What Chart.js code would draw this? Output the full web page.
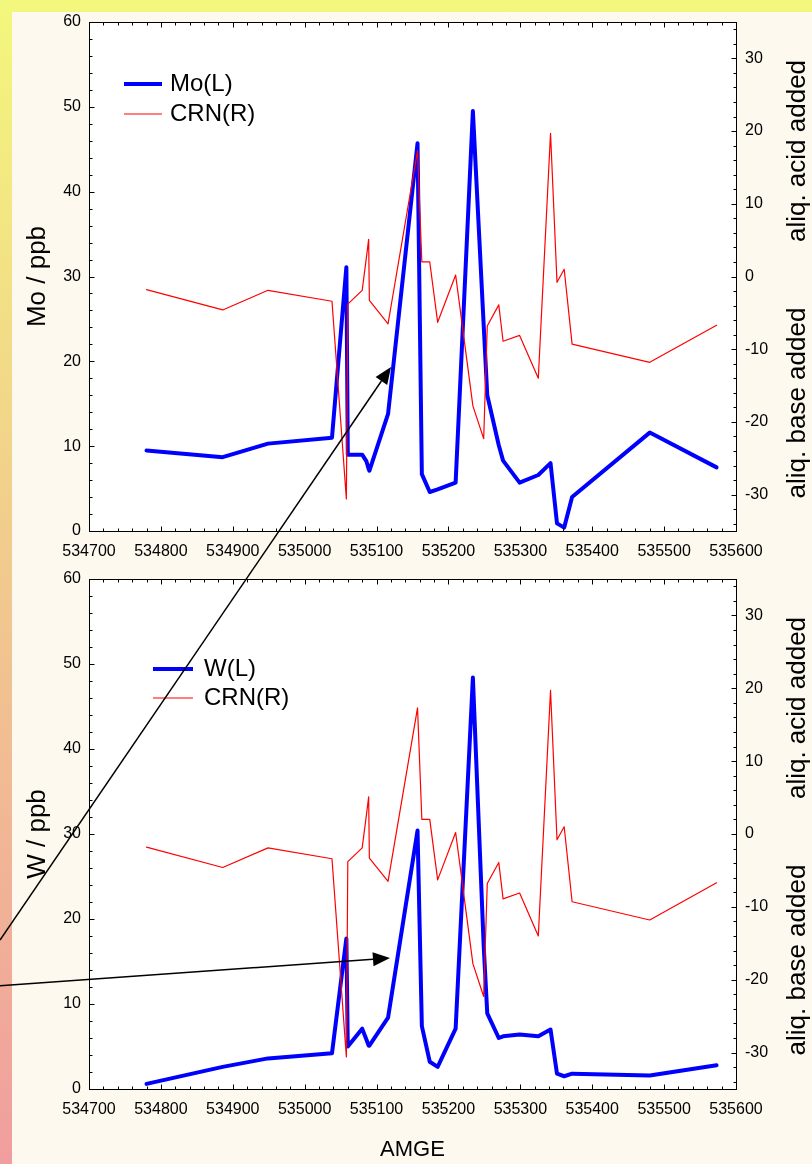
<!DOCTYPE html>
<html>
<head>
<meta charset="utf-8">
<script src="https://cdn.jsdelivr.net/npm/chart.js@4.4.1/dist/chart.umd.min.js"></script>
<style>
html, body { margin: 0; padding: 0; }
body {
    width: 812px; height: 1164px; position: relative; overflow: hidden;
    background: linear-gradient(#f3f77c, #f1c98e 50%, #f09e9e);
}
#panel { position: absolute; left: 12px; top: 12px; right: 0; bottom: 0; background: #fdf9ee; }
canvas { position: absolute; left: 0; }
#topChart { top: 0; }
#bottomChart { top: 557px; }
svg { position: absolute; left: 0; top: 0; }
</style>
</head>
<body>
<div id="panel"></div>
<canvas id="topChart" width="812" height="572"></canvas>
<canvas id="bottomChart" width="812" height="607"></canvas>
<svg width="812" height="1164">
    <line x1="0" y1="940" x2="381.4" y2="381" stroke="#000" stroke-width="1.5"/>
    <polygon points="391,367 387.2,385 375.6,377.1" fill="#000"/>
    <line x1="0" y1="985.7" x2="373" y2="959.2" stroke="#000" stroke-width="1.5"/>
    <polygon points="390,958 373.5,966.2 372.5,952.2" fill="#000"/>
</svg>
<script>
// sample positions (AMGE) shared by all series
const amge = [534780, 534886, 534949, 535038, 535058, 535060, 535080, 535086, 535089, 535090,
    535116, 535157, 535163, 535174, 535185, 535210, 535234, 535249, 535254, 535270,
    535276, 535299, 535325, 535342, 535351, 535361, 535372, 535480, 535573];
const mo = [9.5, 8.7, 10.3, 11.0, 31.1, 9.0, 9.0, 8.2, 7.3, 7.1,
    13.8, 45.7, 6.7, 4.6, 4.9, 5.7, 49.5, 24.3, 16.0, 10.1,
    8.3, 5.7, 6.6, 8.0, 0.9, 0.4, 4.0, 11.6, 7.5];
const w = [0.6, 2.6, 3.6, 4.2, 17.7, 5.0, 7.1, 5.8, 5.1, 5.1,
    8.4, 30.4, 7.4, 3.2, 2.6, 7.1, 48.4, 16.9, 8.9, 6.0,
    6.2, 6.4, 6.2, 7.0, 1.8, 1.5, 1.8, 1.6, 2.8];
const crn = [-1.8, -4.6, -1.9, -3.4, -30.6, -3.8, -1.9, 2.7, 5.1, -3.3,
    -6.5, 17.3, 2.0, 2.0, -6.3, 0.2, -17.8, -22.3, -6.8, -3.9,
    -8.9, -8.1, -14.0, 19.7, -0.8, 1.0, -9.3, -11.8, -6.7];

const amgeTicks = [534700, 534800, 534900, 535000, 535100, 535200, 535300, 535400, 535500, 535600];
const ppbTicks = [0, 10, 20, 30, 40, 50, 60];
const crnTicks = [-30, -20, -10, 0, 10, 20, 30];

Chart.defaults.font.family = '"Liberation Sans", Arial, sans-serif';
Chart.defaults.color = '#000';

function marks(scale, minorStep, majorStep) {
    const out = [];
    const n0 = Math.ceil(scale.min / minorStep);
    const n1 = Math.floor(scale.max / minorStep);
    for (let n = n0; n <= n1; n++) {
        const v = n * minorStep;
        out.push({ p: Math.round(scale.getPixelForValue(v)) + 0.5, len: Math.abs(v % majorStep) < 1e-9 ? 5 : 3 });
    }
    return out;
}

// white plot area, inward ticks on every side, legend and right-hand titles
const frame = {
    id: 'frame',
    beforeDraw(chart) {
        const { ctx, chartArea: a } = chart;
        ctx.save();
        ctx.fillStyle = '#fff';
        ctx.fillRect(a.left, a.top, a.width, a.height);
        ctx.restore();
    },
    afterDraw(chart, args, o) {
        const { ctx, chartArea: a, scales } = chart;
        const L = Math.round(a.left) + 0.5, R = Math.round(a.right) + 0.5;
        const T = Math.round(a.top) + 0.5, B = Math.round(a.bottom) + 0.5;
        ctx.save();
        ctx.strokeStyle = '#000';
        ctx.lineWidth = 1;
        ctx.strokeRect(L, T, R - L, B - T);
        ctx.beginPath();
        marks(scales.x, 20, 100).forEach(m => {
            ctx.moveTo(m.p, B); ctx.lineTo(m.p, B - m.len);
            ctx.moveTo(m.p, T); ctx.lineTo(m.p, T + m.len);
        });
        marks(scales.y, 2, 10).forEach(m => {
            ctx.moveTo(L, m.p); ctx.lineTo(L + m.len, m.p);
        });
        marks(scales.y2, 2, 10).forEach(m => {
            ctx.moveTo(R, m.p); ctx.lineTo(R - m.len, m.p);
        });
        ctx.stroke();

        // legend
        ctx.font = '24px "Liberation Sans", Arial, sans-serif';
        ctx.fillStyle = '#000';
        ctx.textBaseline = 'middle';
        ctx.textAlign = 'left';
        const lg = o.legend;
        [0, 1].forEach((di, i) => {
            const ds = chart.data.datasets[di];
            const y = a.top + lg.y + i * lg.step;
            const x = a.left + lg.x;
            ctx.beginPath();
            ctx.strokeStyle = ds.borderColor;
            ctx.lineWidth = ds.borderWidth;
            ctx.moveTo(x, y);
            ctx.lineTo(x + lg.len, y);
            ctx.stroke();
            ctx.fillText(ds.label, x + lg.len + lg.gap, y);
        });

        // right axis titles
        ctx.font = '26px "Liberation Sans", Arial, sans-serif';
        ctx.textAlign = 'center';
        [['aliq. acid added', 129], ['aliq. base added', 381]].forEach(([t, dy]) => {
            ctx.save();
            ctx.translate(a.right + 62, a.top + dy);
            ctx.rotate(-Math.PI / 2);
            ctx.fillText(t, 0, 0);
            ctx.restore();
        });
        ctx.restore();
    }
};

function makeChart(id, leftLabel, values, opts) {
    return new Chart(document.getElementById(id), {
        type: 'line',
        data: {
            datasets: [
                {
                    label: leftLabel,
                    data: amge.map((x, i) => ({ x: x, y: values[i] })),
                    borderColor: '#0000ff',
                    borderWidth: 4,
                    yAxisID: 'y',
                    order: 1
                },
                {
                    label: 'CRN(R)',
                    data: amge.map((x, i) => ({ x: x, y: crn[i] })),
                    borderColor: '#ff0000',
                    borderWidth: 1.2,
                    yAxisID: 'y2',
                    order: 0
                }
            ]
        },
        options: {
            responsive: false,
            animation: false,
            devicePixelRatio: 1,
            layout: { padding: { top: 22, left: 0, right: 0, bottom: 0 } },
            elements: {
                point: { radius: 0 },
                line: { tension: 0, borderJoinStyle: 'round', borderCapStyle: 'round' }
            },
            plugins: {
                legend: { display: false },
                tooltip: { enabled: false },
                frame: { legend: opts.legend }
            },
            scales: {
                x: {
                    type: 'linear',
                    min: 534700,
                    max: 535600,
                    afterBuildTicks: s => { s.ticks = amgeTicks.map(v => ({ value: v })); },
                    afterFit: s => { s.height = opts.xHeight; },
                    grid: { display: false, drawTicks: false },
                    border: { display: false },
                    ticks: { font: { size: 16 }, padding: 11, maxRotation: 0, autoSkip: false, callback: v => String(v) },
                    title: {
                        display: opts.xTitle,
                        text: 'AMGE',
                        font: { size: 22 },
                        padding: { top: 0, bottom: 1 }
                    }
                },
                y: {
                    position: 'left',
                    min: 0,
                    max: 60,
                    afterBuildTicks: s => { s.ticks = ppbTicks.map(v => ({ value: v })); },
                    afterFit: s => { s.width = 89; },
                    grid: { display: false, drawTicks: false },
                    border: { display: false },
                    ticks: { font: { size: 16 }, padding: 8, callback: v => String(v) },
                    title: {
                        display: true,
                        text: leftLabel.replace('(L)', '') + ' / ppb',
                        font: { size: 26 },
                        padding: { top: 22, bottom: 0 }
                    }
                },
                y2: {
                    position: 'right',
                    min: -35,
                    max: 35,
                    afterBuildTicks: s => { s.ticks = crnTicks.map(v => ({ value: v })); },
                    afterFit: s => { s.width = 76; },
                    grid: { display: false, drawTicks: false },
                    border: { display: false },
                    ticks: { font: { size: 16 }, padding: 9, callback: v => String(v) }
                }
            }
        },
        plugins: [frame]
    });
}

makeChart('topChart', 'Mo(L)', mo, {
    xHeight: 41, xTitle: false,
    legend: { x: 35, y: 62, len: 38, gap: 8, step: 30 }
});
makeChart('bottomChart', 'W(L)', w, {
    xHeight: 75, xTitle: true,
    legend: { x: 64, y: 90, len: 40, gap: 11, step: 29 }
});
</script>
</body>
</html>
